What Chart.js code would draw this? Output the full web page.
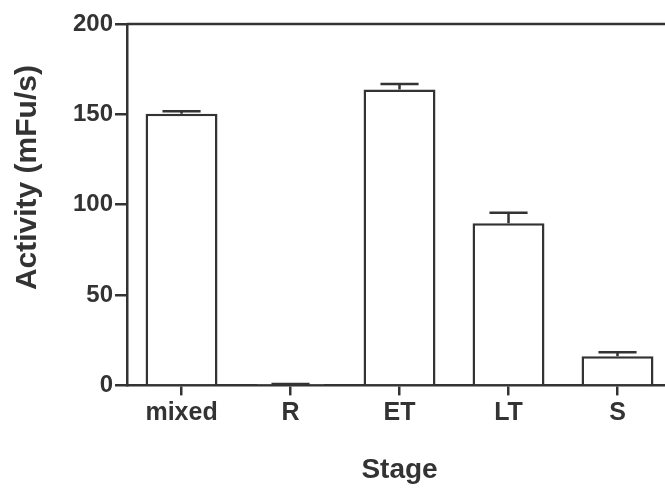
<!DOCTYPE html>
<html>
<head>
<meta charset="utf-8">
<script src="https://cdn.jsdelivr.net/npm/chart.js@4/dist/chart.umd.min.js"></script>
<style>
html,body{margin:0;padding:0;background:#fff;overflow:hidden;}
#clip{width:665px;height:490px;overflow:hidden;position:relative;}
#wrap{width:672px;height:490px;position:absolute;left:0;top:0;}
</style>
</head>
<body>
<div id="clip"><div id="wrap"><canvas id="c"></canvas></div></div>
<script>
const categories = ['mixed', 'R', 'ET', 'LT', 'S'];
const activity = [150.3, 0.3, 163.7, 89.8, 16.1];
const errors = [1.4, 0.5, 3.1, 5.8, 2.2];
const yTicks = [0, 50, 100, 150, 200];
const yTitle = 'Activity (mFu/s)';
const xTitle = 'Stage';

const ink = '#333333';
const font = 'Liberation Sans, Arial, Helvetica, sans-serif';

const errorBars = {
  id: 'errorBars',
  afterDatasetsDraw(chart) {
    const ctx = chart.ctx;
    const y = chart.scales.y;
    const meta = chart.getDatasetMeta(0);
    ctx.save();
    ctx.strokeStyle = ink;
    ctx.lineWidth = 2.5;
    meta.data.forEach((bar, i) => {
      const cx = bar.x;
      const y0 = y.getPixelForValue(activity[i]);
      const y1 = y.getPixelForValue(activity[i] + errors[i]);
      const half = bar.width * 0.265;
      ctx.beginPath();
      ctx.moveTo(cx, y0);
      ctx.lineTo(cx, y1);
      ctx.moveTo(cx - half, y1);
      ctx.lineTo(cx + half, y1);
      ctx.stroke();
    });
    ctx.restore();
  }
};

const frameAndTitle = {
  id: 'frameAndTitle',
  afterDraw(chart) {
    const ctx = chart.ctx;
    const a = chart.chartArea;
    const y = chart.scales.y;
    ctx.save();
    ctx.strokeStyle = ink;
    ctx.lineWidth = 2.5;
    const top = y.getPixelForValue(200);
    ctx.beginPath();
    ctx.moveTo(a.left, top);
    ctx.lineTo(chart.width, top);
    ctx.stroke();
    // y axis title
    ctx.fillStyle = ink;
    ctx.font = 'bold 30px ' + font;
    ctx.textAlign = 'center';
    ctx.textBaseline = 'middle';
    ctx.translate(28, y.getPixelForValue(115));
    ctx.rotate(-Math.PI / 2);
    ctx.fillText(yTitle, 0, 0);
    ctx.restore();
  }
};

new Chart(document.getElementById('c'), {
  type: 'bar',
  data: {
    labels: categories,
    datasets: [{
      data: activity,
      backgroundColor: '#ffffff',
      borderColor: ink,
      borderWidth: 2.5,
      barPercentage: 0.66,
      categoryPercentage: 1.0
    }]
  },
  options: {
    responsive: true,
    maintainAspectRatio: false,
    animation: false,
    devicePixelRatio: 1,
    layout: { padding: { top: 24, right: 0, left: 71, bottom: 3 } },
    plugins: { legend: { display: false }, tooltip: { enabled: false } },
    scales: {
      x: {
        grid: { display: true, drawOnChartArea: false, offset: false, tickLength: 10, color: ink, lineWidth: 2.5 },
        border: { display: true, color: ink, width: 2.5 },
        ticks: { color: ink, font: { family: font, size: 25, weight: 'bold' }, padding: 3 },
        title: { display: true, text: xTitle, color: ink, font: { family: font, size: 28, weight: 'bold' }, padding: { top: 22, bottom: 0 } }
      },
      y: {
        min: 0, max: 200,
        afterBuildTicks(axis) { axis.ticks = yTicks.map(v => ({ value: v })); },
        grid: { display: true, drawOnChartArea: false, tickLength: 12, color: ink, lineWidth: 2.5 },
        border: { display: true, color: ink, width: 2.5 },
        ticks: { color: ink, font: { family: font, size: 24, weight: 'bold' }, padding: 2 }
      }
    }
  },
  plugins: [errorBars, frameAndTitle]
});
</script>
</body>
</html>
